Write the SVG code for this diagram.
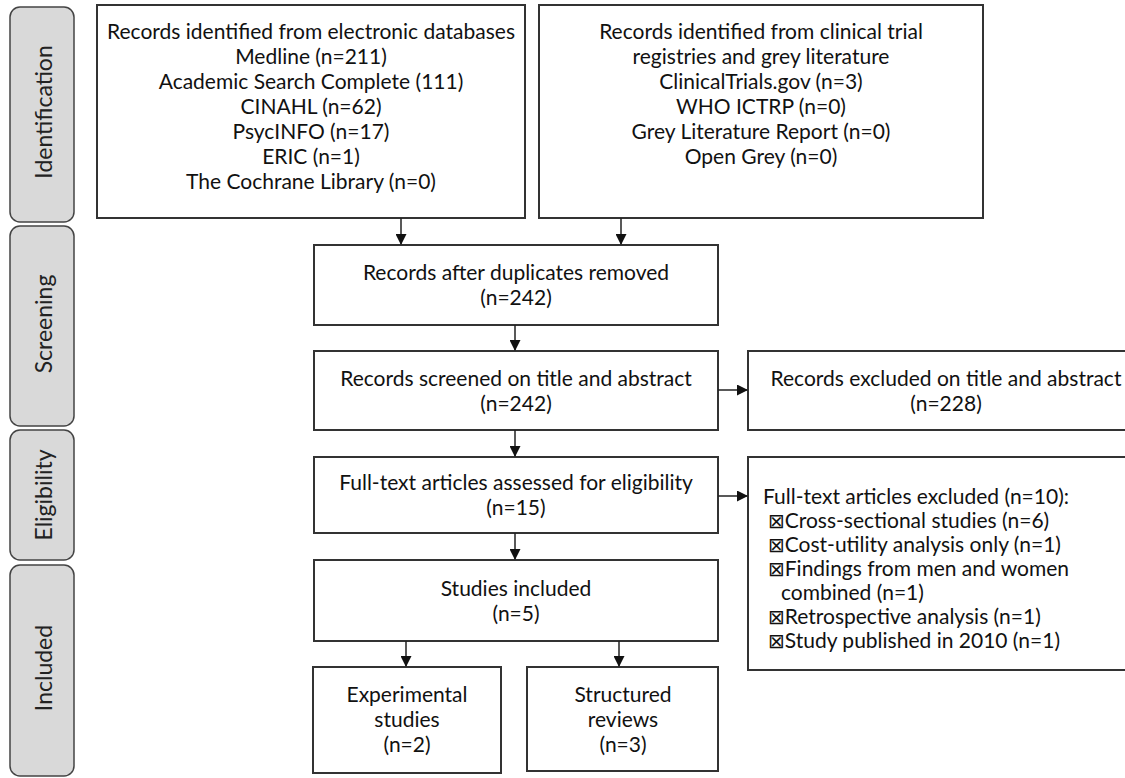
<svg xmlns="http://www.w3.org/2000/svg" width="1125" height="778" viewBox="0 0 1125 778">
<style>
  .tab { fill: #d9d9d9; stroke: #444; stroke-width: 1.5; }
  .tabt { font-family: Lato, "Liberation Sans", sans-serif; font-size: 23px; fill: #222; text-anchor: middle; dominant-baseline: central; }
  .box { fill: #fff; stroke: #333; stroke-width: 2; }
  .t { font-family: Lato, "Liberation Sans", sans-serif; font-size: 21px; fill: #111; text-anchor: middle; }
  .tl { font-family: Lato, "Liberation Sans", sans-serif; font-size: 21px; fill: #111; }
  .bx { font-family: "DejaVu Sans", sans-serif; font-size: 20px; }
  .conn line { stroke: #222; stroke-width: 1.5; }
</style>
<defs>
  <marker id="ah" markerWidth="11" markerHeight="11" refX="10" refY="5.5" orient="auto" markerUnits="userSpaceOnUse">
    <path d="M0,0 L11,5.5 L0,11 Z" fill="#111"/>
  </marker>
</defs>
<rect width="1125" height="778" fill="#fff"/>

<g id="tab-identification">
  <rect class="tab" x="10" y="7" width="64" height="215" rx="10"/>
  <text class="tabt" transform="translate(43,112) rotate(-90)">Identification</text>
</g>
<g id="tab-screening">
  <rect class="tab" x="10" y="226" width="64" height="200" rx="10"/>
  <text class="tabt" transform="translate(43,324) rotate(-90)">Screening</text>
</g>
<g id="tab-eligibility">
  <rect class="tab" x="10" y="430" width="64" height="130" rx="10"/>
  <text class="tabt" transform="translate(43,495) rotate(-90)">Eligibility</text>
</g>
<g id="tab-included">
  <rect class="tab" x="10" y="565" width="64" height="211" rx="10"/>
  <text class="tabt" transform="translate(43,668) rotate(-90)">Included</text>
</g>

<g id="box-databases">
  <rect class="box" x="97" y="5" width="428" height="213"/>
  <text class="t" x="311" y="39">Records identified from electronic databases</text>
  <text class="t" x="311" y="64">Medline (n=211)</text>
  <text class="t" x="311" y="89">Academic Search Complete (111)</text>
  <text class="t" x="311" y="114">CINAHL (n=62)</text>
  <text class="t" x="311" y="139">PsycINFO (n=17)</text>
  <text class="t" x="311" y="164">ERIC (n=1)</text>
  <text class="t" x="311" y="189">The Cochrane Library (n=0)</text>
</g>
<g id="box-registries">
  <rect class="box" x="539" y="5" width="444" height="213"/>
  <text class="t" x="761" y="39">Records identified from clinical trial</text>
  <text class="t" x="761" y="64">registries and grey literature</text>
  <text class="t" x="761" y="89">ClinicalTrials.gov (n=3)</text>
  <text class="t" x="761" y="114">WHO ICTRP (n=0)</text>
  <text class="t" x="761" y="139">Grey Literature Report (n=0)</text>
  <text class="t" x="761" y="164">Open Grey (n=0)</text>
</g>
<g id="box-duplicates">
  <rect class="box" x="314" y="245" width="404" height="80"/>
  <text class="t" x="516" y="280">Records after duplicates removed</text>
  <text class="t" x="516" y="305">(n=242)</text>
</g>
<g id="box-screened">
  <rect class="box" x="314" y="351" width="404" height="79"/>
  <text class="t" x="516" y="386">Records screened on title and abstract</text>
  <text class="t" x="516" y="411">(n=242)</text>
</g>
<g id="box-excluded-title">
  <rect class="box" x="748" y="351" width="400" height="79"/>
  <text class="t" x="946" y="386">Records excluded on title and abstract</text>
  <text class="t" x="946" y="411">(n=228)</text>
</g>
<g id="box-fulltext">
  <rect class="box" x="314" y="457" width="404" height="76"/>
  <text class="t" x="516" y="490">Full-text articles assessed for eligibility</text>
  <text class="t" x="516" y="515">(n=15)</text>
</g>
<g id="box-fulltext-excluded">
  <rect class="box" x="748" y="457" width="400" height="213"/>
  <text class="tl" x="763" y="504">Full-text articles excluded (n=10):</text>
  <text class="tl" x="768" y="528"><tspan class="bx">⊠</tspan>Cross-sectional studies (n=6)</text>
  <text class="tl" x="768" y="552"><tspan class="bx">⊠</tspan>Cost-utility analysis only (n=1)</text>
  <text class="tl" x="768" y="576"><tspan class="bx">⊠</tspan>Findings from men and women</text>
  <text class="tl" x="781" y="600">combined (n=1)</text>
  <text class="tl" x="768" y="624"><tspan class="bx">⊠</tspan>Retrospective analysis (n=1)</text>
  <text class="tl" x="768" y="648"><tspan class="bx">⊠</tspan>Study published in 2010 (n=1)</text>
</g>
<g id="box-included">
  <rect class="box" x="314" y="560" width="404" height="81"/>
  <text class="t" x="516" y="596">Studies included</text>
  <text class="t" x="516" y="621">(n=5)</text>
</g>
<g id="box-experimental">
  <rect class="box" x="313" y="667" width="188" height="106"/>
  <text class="t" x="407" y="702">Experimental</text>
  <text class="t" x="407" y="727">studies</text>
  <text class="t" x="407" y="752">(n=2)</text>
</g>
<g id="box-reviews">
  <rect class="box" x="527" y="667" width="191" height="104"/>
  <text class="t" x="623" y="702">Structured</text>
  <text class="t" x="623" y="727">reviews</text>
  <text class="t" x="623" y="752">(n=3)</text>
</g>

<g class="conn" id="connectors">
  <line x1="401" y1="218" x2="401" y2="244" marker-end="url(#ah)"/>
  <line x1="621" y1="218" x2="621" y2="244" marker-end="url(#ah)"/>
  <line x1="515" y1="325" x2="515" y2="350" marker-end="url(#ah)"/>
  <line x1="718" y1="390" x2="747" y2="390" marker-end="url(#ah)"/>
  <line x1="515" y1="430" x2="515" y2="456" marker-end="url(#ah)"/>
  <line x1="718" y1="496" x2="747" y2="496" marker-end="url(#ah)"/>
  <line x1="515" y1="533" x2="515" y2="559" marker-end="url(#ah)"/>
  <line x1="406" y1="641" x2="406" y2="666" marker-end="url(#ah)"/>
  <line x1="619" y1="641" x2="619" y2="666" marker-end="url(#ah)"/>
</g>
</svg>
